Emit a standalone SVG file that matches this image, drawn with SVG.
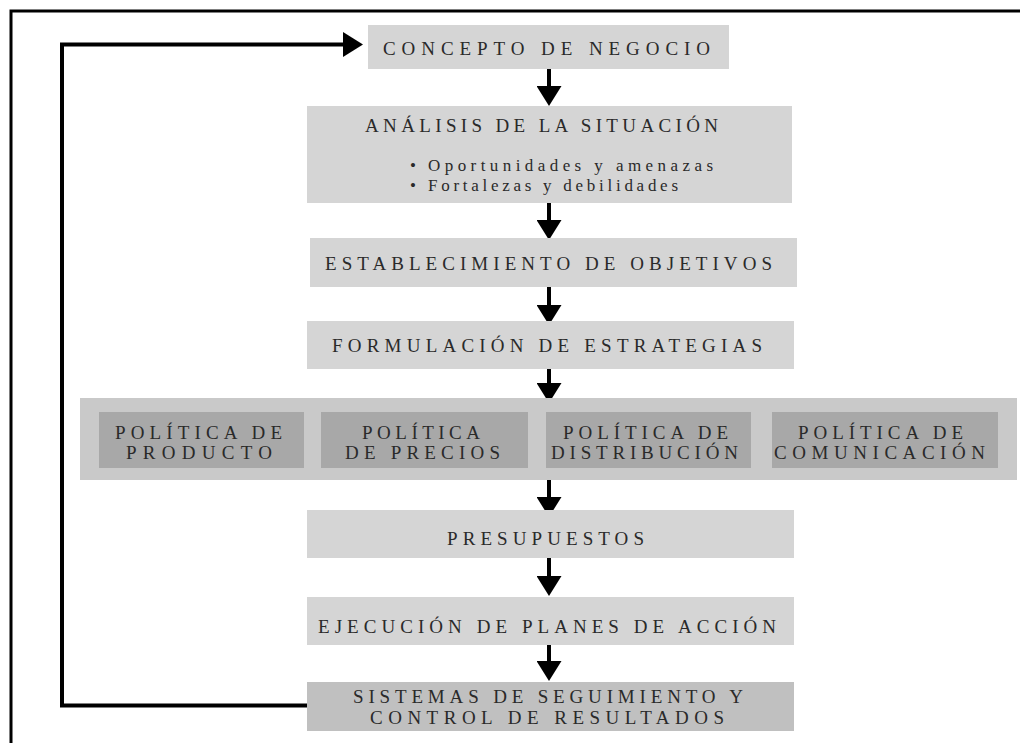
<svg xmlns="http://www.w3.org/2000/svg" width="1020" height="743" viewBox="0 0 1020 743">
  <style>
    .box { fill: #d5d5d5; }
    .box-dark { fill: #c0c0c0; }
    .band { fill: #c9c9c9; }
    .policy { fill: #a8a8a8; }
    .label { font-family: "Liberation Serif", "Times New Roman", serif; font-size: 19px; fill: #2a2a2a; }
    .item { font-size: 17px; }
    .frame { fill: none; stroke: #000; stroke-width: 3; }
    .flow { fill: none; stroke: #000; stroke-width: 4; }
  </style>
  <defs>
    <marker id="head" viewBox="0 0 20 25" refX="8" refY="12.5" markerWidth="20" markerHeight="25" markerUnits="userSpaceOnUse" orient="auto">
      <path d="M0,0 L20,12.5 L0,25 Z" fill="#000"/>
    </marker>
  </defs>

  <rect width="1020" height="743" fill="#fff"/>

  <!-- page frame (top and left edges) -->
  <path class="frame" d="M11,743 V11 H1020"/>

  <!-- connectors -->
  <g id="connectors">
    <path class="flow" d="M549,69 V94" marker-end="url(#head)"/>
    <path class="flow" d="M549,203 V228" marker-end="url(#head)"/>
    <path class="flow" d="M549,287 V313" marker-end="url(#head)"/>
    <path class="flow" d="M549,369 V391" marker-end="url(#head)"/>
    <path class="flow" d="M549,480 V505" marker-end="url(#head)"/>
    <path class="flow" d="M549,558 V584" marker-end="url(#head)"/>
    <path class="flow" d="M549,642 V669" marker-end="url(#head)"/>
    <!-- feedback loop back to the start -->
    <path class="flow" d="M307,705.5 H62 V44.5 H351" marker-end="url(#head)"/>
  </g>

  <g id="concepto">
    <rect class="box" x="368" y="25" width="361" height="44"/>
    <text class="label" x="383" y="55" textLength="327" lengthAdjust="spacing">CONCEPTO DE NEGOCIO</text>
  </g>

  <g id="analisis">
    <rect class="box" x="307" y="106" width="485" height="97"/>
    <text class="label" x="365" y="132" textLength="353" lengthAdjust="spacing">ANÁLISIS DE LA SITUACIÓN</text>
    <text class="label item" x="410" y="171">•</text>
    <text class="label item" x="428" y="171" textLength="285" lengthAdjust="spacing">Oportunidades y amenazas</text>
    <text class="label item" x="410" y="191">•</text>
    <text class="label item" x="428" y="191" textLength="250" lengthAdjust="spacing">Fortalezas y debilidades</text>
  </g>

  <g id="objetivos">
    <rect class="box" x="310" y="238" width="487" height="49"/>
    <text class="label" x="325" y="270" textLength="447" lengthAdjust="spacing">ESTABLECIMIENTO DE OBJETIVOS</text>
  </g>

  <g id="estrategias">
    <rect class="box" x="307" y="321" width="487" height="48"/>
    <text class="label" x="332" y="352" textLength="430" lengthAdjust="spacing">FORMULACIÓN DE ESTRATEGIAS</text>
  </g>

  <g id="politicas">
    <rect class="band" x="80" y="398" width="937" height="82"/>
    <g id="politica-producto">
      <rect class="policy" x="99" y="412" width="205" height="56"/>
      <text class="label" x="115" y="439" textLength="167" lengthAdjust="spacing">POLÍTICA DE</text>
      <text class="label" x="126" y="459" textLength="146" lengthAdjust="spacing">PRODUCTO</text>
    </g>
    <g id="politica-precios">
      <rect class="policy" x="321" y="412" width="207" height="56"/>
      <text class="label" x="362" y="439" textLength="118" lengthAdjust="spacing">POLÍTICA</text>
      <text class="label" x="345" y="459" textLength="155" lengthAdjust="spacing">DE PRECIOS</text>
    </g>
    <g id="politica-distribucion">
      <rect class="policy" x="546" y="412" width="205" height="56"/>
      <text class="label" x="563" y="439" textLength="165" lengthAdjust="spacing">POLÍTICA DE</text>
      <text class="label" x="551" y="459" textLength="187" lengthAdjust="spacing">DISTRIBUCIÓN</text>
    </g>
    <g id="politica-comunicacion">
      <rect class="policy" x="772" y="412" width="226" height="56"/>
      <text class="label" x="798" y="439" textLength="165" lengthAdjust="spacing">POLÍTICA DE</text>
      <text class="label" x="774" y="459" textLength="211" lengthAdjust="spacing">COMUNICACIÓN</text>
    </g>
  </g>

  <g id="presupuestos">
    <rect class="box" x="307" y="510" width="487" height="48"/>
    <text class="label" x="447" y="545" textLength="197" lengthAdjust="spacing">PRESUPUESTOS</text>
  </g>

  <g id="ejecucion">
    <rect class="box" x="307" y="597" width="487" height="48"/>
    <text class="label" x="318" y="633" textLength="458" lengthAdjust="spacing">EJECUCIÓN DE PLANES DE ACCIÓN</text>
  </g>

  <g id="seguimiento">
    <rect class="box-dark" x="307" y="682" width="487" height="49"/>
    <text class="label" x="353" y="703" textLength="390" lengthAdjust="spacing">SISTEMAS DE SEGUIMIENTO Y</text>
    <text class="label" x="370" y="724" textLength="354" lengthAdjust="spacing">CONTROL DE RESULTADOS</text>
  </g>
</svg>
